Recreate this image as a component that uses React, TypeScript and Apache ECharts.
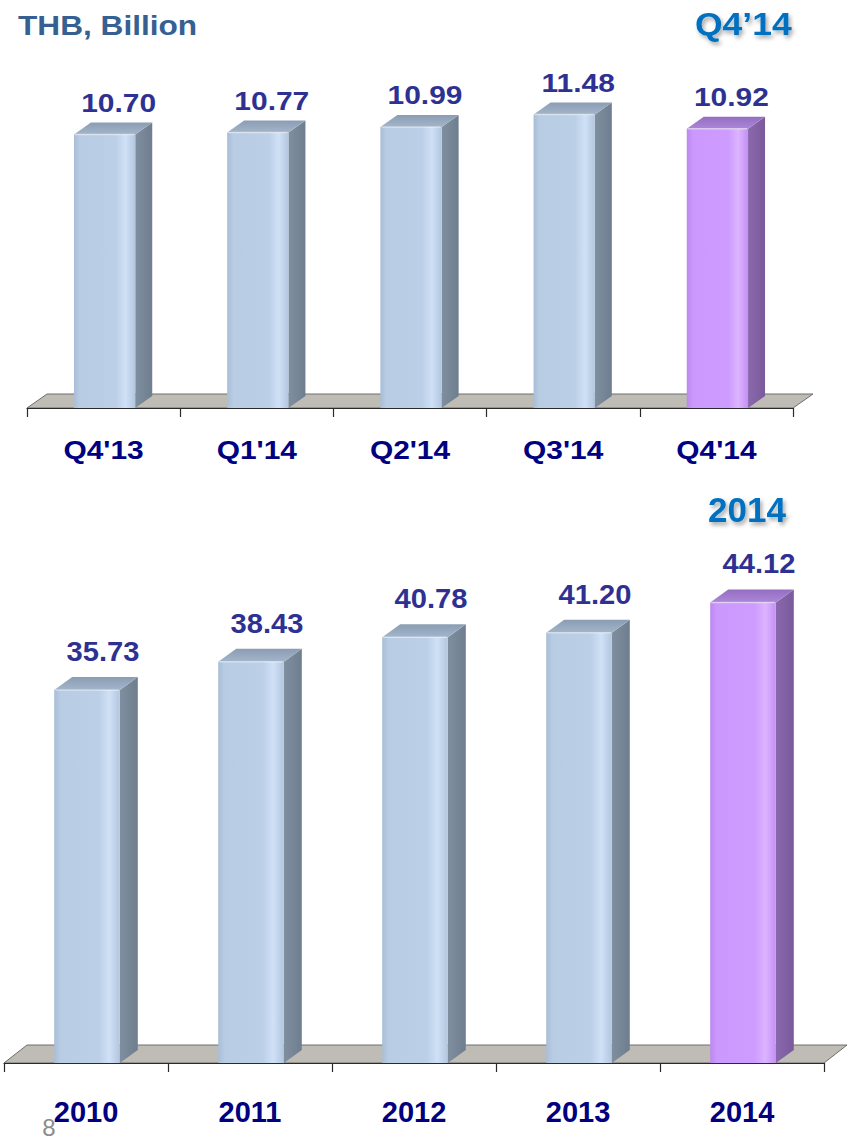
import React, { useEffect, useRef } from 'react';
import * as echarts from 'echarts';

const quarterCategories = ["Q4'13", "Q1'14", "Q2'14", "Q3'14", "Q4'14"];
const quarterValues = [10.7, 10.77, 10.99, 11.48, 10.92];
const yearCategories = ['2010', '2011', '2012', '2013', '2014'];
const yearValues = [35.73, 38.43, 40.78, 41.2, 44.12];
const unitTitle = 'THB, Billion';
const quarterTitle = 'Q4’14';
const yearTitle = '2014';
const pageNumber = '8';
const highlightIndex = 4;

const FONT = '"Liberation Sans", Arial, sans-serif';

const BLUE = {
  front: ['#A9BDD7', '#B8CCE4', '#BBCFE7', '#D0E1F6', '#B2C6DF'],
  side: ['#808FA0', '#6F7E8F'],
  top: ['#A3B5CB', '#8B9DB3'],
};
const PURPLE = {
  front: ['#BC88EE', '#CB98FE', '#CE9CFF', '#DCB4FF', '#C390F3'],
  side: ['#8A68AD', '#7A5A9B'],
  top: ['#AC86D8', '#946EC0'],
};

type Cfg = {
  categories: string[];
  dx: number;
  dy: number;
  widthRatio: number;
  labelDx: number;
  labelDy: number;
  labelSize: number;
  labelScale: number;
  catDy: number;
  catSize: number;
  catScale: number;
};

function makeBarRenderer(cfg: Cfg) {
  return (params: any, api: any) => {
    const idx = api.value(0);
    const val = api.value(1);
    const base = api.coord([idx, 0]);
    const topPt = api.coord([idx, val]);
    const band = api.size([1, 0])[0];
    const w = band * cfg.widthRatio;
    const cx = base[0] + 1;
    const xl = cx - w / 2;
    const xr = cx + w / 2;
    const yb = base[1];
    const yt = topPt[1];
    const c = idx === highlightIndex ? PURPLE : BLUE;
    const { dx, dy } = cfg;
    const frontFill = new echarts.graphic.LinearGradient(0, 0, 1, 0, [
      { offset: 0, color: c.front[0] },
      { offset: 0.1, color: c.front[1] },
      { offset: 0.68, color: c.front[2] },
      { offset: 0.84, color: c.front[3] },
      { offset: 1, color: c.front[4] },
    ]);
    const sideFill = new echarts.graphic.LinearGradient(0, 0, 1, 0, [
      { offset: 0, color: c.side[0] },
      { offset: 1, color: c.side[1] },
    ]);
    const topFill = new echarts.graphic.LinearGradient(0, 1, 0, 0, [
      { offset: 0, color: c.top[0] },
      { offset: 1, color: c.top[1] },
    ]);
    return {
      type: 'group',
      children: [
        {
          type: 'polygon',
          shape: { points: [[xr, yb], [xr, yt], [xr + dx, yt - dy], [xr + dx, yb - dy]] },
          style: { fill: sideFill },
        },
        {
          type: 'rect',
          shape: { x: xl, y: yt, width: w, height: yb - yt },
          style: { fill: frontFill },
        },
        {
          type: 'polygon',
          shape: { points: [[xl, yt], [xr, yt], [xr + dx, yt - dy], [xl + dx, yt - dy]] },
          style: { fill: topFill },
        },
        {
          type: 'line',
          shape: { x1: xl + 1, y1: yt, x2: xr - 1, y2: yt },
          style: { stroke: 'rgba(255,255,255,0.45)', lineWidth: 1.5 },
        },
        {
          type: 'text',
          x: cx + cfg.labelDx,
          y: yt + cfg.labelDy,
          scaleX: cfg.labelScale,
          style: {
            text: val.toFixed(2),
            fill: '#2E3192',
            font: `bold ${cfg.labelSize}px ${FONT}`,
            align: 'center',
            verticalAlign: 'middle',
          },
        },
        {
          type: 'text',
          x: base[0],
          y: yb + cfg.catDy,
          scaleX: cfg.catScale,
          style: {
            text: cfg.categories[idx],
            fill: '#000080',
            font: `bold ${cfg.catSize}px ${FONT}`,
            align: 'center',
            verticalAlign: 'middle',
          },
        },
      ],
    };
  };
}

function makeFloorRenderer(fdx: number, fdy: number) {
  return (params: any) => {
    const cs = params.coordSys;
    const x0 = cs.x;
    const x1 = cs.x + cs.width;
    const yb = cs.y + cs.height;
    return {
      type: 'polygon',
      shape: { points: [[x0, yb], [x1, yb], [x1 + fdx, yb - fdy], [x0 + fdx, yb - fdy]] },
      style: { fill: '#BEBCB4', stroke: '#6E6E6E', lineWidth: 1 },
    };
  };
}

export default function App() {
  const ref = useRef<HTMLDivElement>(null);
  useEffect(() => {
    document.body.style.margin = '0';
    if (!ref.current) return;
    const chart = echarts.init(ref.current, undefined, { renderer: 'svg' });
    const axisCommon = {
      type: 'category' as const,
      boundaryGap: true,
      axisLabel: { show: false },
      axisLine: { show: true, lineStyle: { color: '#2A2A2A', width: 1.2 } },
      axisTick: { show: true, length: 9, lineStyle: { color: '#2A2A2A', width: 1.2 } },
      splitLine: { show: false },
      z: 10,
    };
    chart.setOption({
      animation: false,
      backgroundColor: '#FFFFFF',
      grid: [
        { left: 27, right: 54, top: 50, bottom: 733 },
        { left: 4, right: 23, top: 541, bottom: 78 },
      ],
      xAxis: [
        { ...axisCommon, gridIndex: 0, data: quarterCategories },
        { ...axisCommon, gridIndex: 1, data: yearCategories },
      ],
      yAxis: [
        { type: 'value', gridIndex: 0, min: 0, max: 14, show: false },
        { type: 'value', gridIndex: 1, min: 0, max: 50, show: false },
      ],
      graphic: [
        {
          type: 'text',
          x: 18,
          y: 25,
          scaleX: 1.13,
          style: {
            text: unitTitle,
            fill: '#366092',
            font: `bold 28px ${FONT}`,
            align: 'left',
            verticalAlign: 'middle',
          },
        },
        {
          type: 'text',
          x: 695,
          y: 24,
          scaleX: 1.11,
          style: {
            text: quarterTitle,
            fill: '#0070C0',
            font: `bold 32px ${FONT}`,
            align: 'left',
            verticalAlign: 'middle',
            textShadowColor: 'rgba(0,0,0,0.35)',
            textShadowBlur: 4,
            textShadowOffsetX: 2,
            textShadowOffsetY: 3,
          },
        },
        {
          type: 'text',
          x: 708,
          y: 509,
          style: {
            text: yearTitle,
            fill: '#0070C0',
            font: `bold 35px ${FONT}`,
            align: 'left',
            verticalAlign: 'middle',
            textShadowColor: 'rgba(0,0,0,0.35)',
            textShadowBlur: 4,
            textShadowOffsetX: 2,
            textShadowOffsetY: 3,
          },
        },
        {
          type: 'text',
          x: 49,
          y: 1127,
          style: {
            text: pageNumber,
            fill: '#8C8C8C',
            font: `normal 24px ${FONT}`,
            align: 'center',
            verticalAlign: 'middle',
          },
        },
      ],
      series: [
        {
          type: 'custom',
          xAxisIndex: 0,
          yAxisIndex: 0,
          z: 1,
          clip: false,
          silent: true,
          renderItem: makeFloorRenderer(20, 14),
          data: [[0, 0]],
        },
        {
          type: 'custom',
          xAxisIndex: 0,
          yAxisIndex: 0,
          z: 3,
          clip: false,
          renderItem: makeBarRenderer({
            categories: quarterCategories,
            dx: 17,
            dy: 12,
            widthRatio: 0.4,
            labelDx: 14,
            labelDy: -32,
            labelSize: 26.5,
            labelScale: 1.13,
            catDy: 42,
            catSize: 26,
            catScale: 1.15,
          }),
          encode: { x: 0, y: 1 },
          data: quarterValues.map((v, i) => [i, v]),
        },
        {
          type: 'custom',
          xAxisIndex: 1,
          yAxisIndex: 1,
          z: 1,
          clip: false,
          silent: true,
          renderItem: makeFloorRenderer(23, 18),
          data: [[0, 0]],
        },
        {
          type: 'custom',
          xAxisIndex: 1,
          yAxisIndex: 1,
          z: 3,
          clip: false,
          renderItem: makeBarRenderer({
            categories: yearCategories,
            dx: 18,
            dy: 13,
            widthRatio: 0.4,
            labelDx: 16,
            labelDy: -39,
            labelSize: 28,
            labelScale: 1.04,
            catDy: 49,
            catSize: 29,
            catScale: 1.0,
          }),
          encode: { x: 0, y: 1 },
          data: yearValues.map((v, i) => [i, v]),
        },
      ],
    });
    return () => {
      chart.dispose();
    };
  }, []);
  return <div ref={ref} style={{ width: 847, height: 1141 }} />;
}
